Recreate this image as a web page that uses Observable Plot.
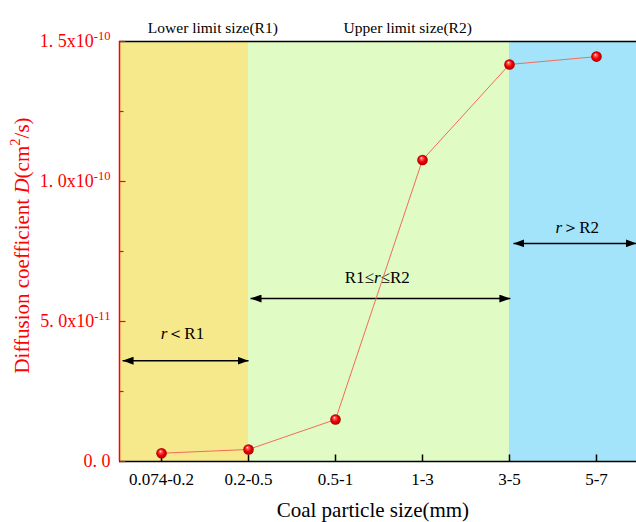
<!DOCTYPE html>
<html><head><meta charset="utf-8">
<script src="https://cdn.jsdelivr.net/npm/d3@7"></script>
<script src="https://cdn.jsdelivr.net/npm/@observablehq/plot@0.6"></script>
<style>body{margin:0;background:#fff} #chart svg{display:block}</style>
</head><body><div id="chart"></div>
<script>
// ---- data ----
const categories = ["0.074-0.2", "0.2-0.5", "0.5-1", "1-3", "3-5", "5-7"];
const diffusion = [2.96e-12, 4.3e-12, 1.5e-11, 1.077e-10, 1.418e-10, 1.446e-10];
const yTicks = [0, 5e-11, 1e-10, 1.5e-10];
const yTickLabels = ["0. 0", "5. 0x10{s:-11}", "1. 0x10{s:-10}", "1. 5x10{s:-10}"];
const yMinorTicks = [2.5e-11, 7.5e-11, 1.25e-10];
const xView = [-0.483, 5.46];
const yView = [0, 1.5e-10];
// zones (in category-index units)
const zoneFrom = [-0.483, 1, 4];
const zoneTo = [1, 4, 5.46];
const zoneColors = ["#f5e98c", "#e0fbc4", "#a3e4fb"];
// range arrows and labels
const rangeLabels = ["{i:r}＜R1", "R1≤{i:r}≤R2", "{i:r}＞R2"];
const rangeX1 = [-0.448, 1.023, 4.046];
const rangeX2 = [1.0, 4.01, 5.46];
const rangeY = [3.6e-11, 5.82e-11, 7.79e-11];
const rangeLabelX = [0.24, 2.48, 4.78];
const rangeLabelY = [4.57e-11, 6.57e-11, 8.36e-11];
// limit labels above the frame
const limitLabels = ["Lower limit size(R1)", "Upper limit size(R2)"];
const limitX = [0.59, 2.83];
const xTitle = "Coal particle size(mm)";
const xTitleX = 2.43;
const yTitle = "Diffusion coefficient {i:D}(cm{s:2}/s)";

const points = categories.map((c, i) => ({i, c, D: diffusion[i]}));
const zones = zoneFrom.map((f, k) => ({from: f, to: zoneTo[k], color: zoneColors[k]}));
const ranges = rangeLabels.map((t, k) => ({t, x1: rangeX1[k], x2: rangeX2[k], y: rangeY[k], lx: rangeLabelX[k], ly: rangeLabelY[k]}));

const serif = "'Liberation Serif', 'Times New Roman', serif";

const tickUp = {draw(ctx) { ctx.moveTo(0, 0); ctx.lineTo(0, -7); }};
const tickRightMajor = {draw(ctx) { ctx.moveTo(0, 0); ctx.lineTo(6, 0); }};
const tickRightMinor = {draw(ctx) { ctx.moveTo(0, 0); ctx.lineTo(4, 0); }};

const svg = Plot.plot({
  width: 636,
  height: 522,
  marginLeft: 119,
  marginRight: 0,
  marginTop: 41,
  marginBottom: 61,
  style: {fontFamily: serif, background: "white", overflow: "visible"},
  x: {domain: xView, axis: null},
  y: {domain: yView, axis: null},
  color: {type: "identity"},
  marks: [
    Plot.rect(zones, {x1: "from", x2: "to", fill: "color"}),
    Plot.ruleY([yView[1]], {stroke: "black", strokeWidth: 1.5}),
    Plot.ruleY([0], {stroke: "black", strokeWidth: 1.5}),
    Plot.ruleX([xView[0]], {stroke: "red", strokeWidth: 1.5}),
    Plot.dot(categories.map((c, i) => i), {x: d => d, frameAnchor: "bottom", symbol: tickUp, fill: "none", stroke: "black", strokeWidth: 1.5}),
    Plot.dot(yTicks, {y: d => d, frameAnchor: "left", symbol: tickRightMajor, fill: "none", stroke: "red", strokeWidth: 1.2}),
    Plot.dot(yMinorTicks, {y: d => d, frameAnchor: "left", symbol: tickRightMinor, fill: "none", stroke: "red", strokeWidth: 1.2}),
    Plot.text(categories, {x: (d, i) => i, frameAnchor: "bottom", lineAnchor: "top", dy: 11, fontSize: 17, fill: "black"}),
    Plot.text(yTickLabels, {y: (d, i) => yTicks[i], frameAnchor: "left", textAnchor: "end", dx: -9, fontSize: 18, fill: "red"}),
    Plot.text([xTitle], {x: xTitleX, frameAnchor: "bottom", lineAnchor: "middle", dy: 49, fontSize: 21, fill: "black"}),
    Plot.text([yTitle], {frameAnchor: "left", textAnchor: "middle", dx: -97, dy: -6, rotate: -90, fontSize: 21, fill: "red"}),
    Plot.text(limitLabels, {x: (d, i) => limitX[i], frameAnchor: "top", dy: -20, fontSize: 15.5, fill: "black"}),
    Plot.link(ranges, {x1: "x1", x2: "x2", y1: "y", y2: "y", stroke: "black", strokeWidth: 1.5}),
    Plot.text(ranges, {x: "lx", y: "ly", text: "t", fontSize: 17, fill: "black"}),
    Plot.line(points, {x: "i", y: "D", stroke: "#f36b5a", strokeWidth: 1}),
    Plot.dot(points, {x: "i", y: "D", r: 5.3, fill: "url(#ball)", stroke: "none"})
  ]
});

// defs: ball gradient and arrowhead
const defs = d3.select(svg).insert("defs", ":first-child");
const g = defs.append("radialGradient").attr("id", "ball").attr("cx", 0.5).attr("cy", 0.5).attr("r", 0.5).attr("fx", 0.38).attr("fy", 0.3);
[[0, "#ffffff"], [0.22, "#ff6060"], [0.6, "#f00000"], [1, "#a80000"]].forEach(([o, c]) => g.append("stop").attr("offset", o).attr("stop-color", c));
const mk = defs.append("marker").attr("id", "ah").attr("viewBox", "0 0 11 8").attr("refX", 11).attr("refY", 4)
  .attr("markerWidth", 11).attr("markerHeight", 8).attr("markerUnits", "userSpaceOnUse").attr("orient", "auto-start-reverse");
mk.append("path").attr("d", "M0,0L11,4L0,8Z").attr("fill", "black");
d3.select(svg).selectAll('g[aria-label="link"] path').attr("marker-start", "url(#ah)").attr("marker-end", "url(#ah)");

// rich text: {i:...} italic, {s:...} superscript
function rich(textEl) {
  const raw = textEl.textContent;
  if (!/\{[is]:/.test(raw)) return;
  const holder = textEl.closest("[font-size]");
  const fs = holder ? parseFloat(holder.getAttribute("font-size")) : 17;
  while (textEl.firstChild) textEl.removeChild(textEl.firstChild);
  const re = /\{(i|s):([^}]*)\}/g;
  let last = 0, m, shifted = false;
  const add = (txt, kind) => {
    if (!txt) return;
    const t = document.createElementNS("http://www.w3.org/2000/svg", "tspan");
    t.textContent = txt;
    if (kind === "s") {
      t.setAttribute("font-size", (fs * 0.7).toFixed(1));
      t.setAttribute("dy", (-fs * 0.42).toFixed(1));
      shifted = true;
    } else {
      if (shifted) { t.setAttribute("dy", (fs * 0.42).toFixed(1)); shifted = false; }
      if (kind === "i") t.setAttribute("font-style", "italic");
    }
    textEl.appendChild(t);
  };
  while ((m = re.exec(raw))) {
    add(raw.slice(last, m.index), "n");
    add(m[2], m[1]);
    last = re.lastIndex;
  }
  add(raw.slice(last), "n");
}
svg.querySelectorAll("text").forEach(rich);

document.getElementById("chart").appendChild(svg);
</script>
</body></html>
